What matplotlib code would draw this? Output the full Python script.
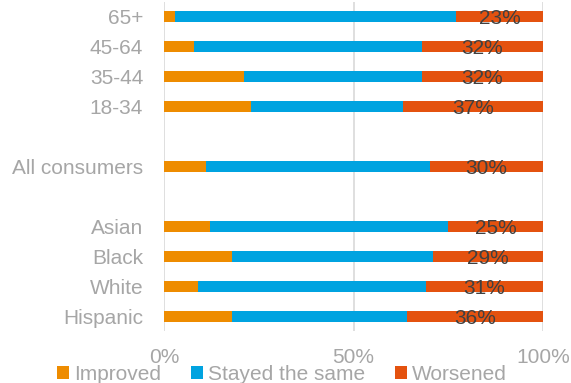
import matplotlib
matplotlib.use("Agg")
import matplotlib.pyplot as plt
import numpy as np

plt.rcParams['font.family'] = ['Liberation Sans', 'DejaVu Sans']

# data (percent)
groups = ["65+", "45-64", "35-44", "18-34", "All consumers",
          "Asian", "Black", "White", "Hispanic"]
improved = [3, 8, 21, 23, 11, 12, 18, 9, 18]
stayed = [74, 60, 47, 40, 59, 63, 53, 60, 46]
worsened = [23, 32, 32, 37, 30, 25, 29, 31, 36]
series_names = ["Improved", "Stayed the same", "Worsened"]
xticks = [0, 50, 100]
xtick_labels = ["0%", "50%", "100%"]

colors = ["#EE8C00", "#00A3E0", "#E4520F"]
grey = "#A6A6A6"

# slot positions, with empty slots between the blocks
ypos = np.array([0, 1, 2, 3, 5, 7, 8, 9, 10])

fig = plt.figure(figsize=(5.71, 3.83), dpi=100)
ax = fig.add_axes([0.2872, 0.1345, 0.6643, 0.8615])

h = 0.39
imp = np.array(improved)
sty = np.array(stayed)
wor = np.array(worsened)
ax.barh(ypos, imp, height=h, color=colors[0], label=series_names[0], zorder=3)
ax.barh(ypos, sty, left=imp, height=h, color=colors[1], label=series_names[1], zorder=3)
ax.barh(ypos, wor, left=imp + sty, height=h, color=colors[2], label=series_names[2], zorder=3)

for y, a, b, w in zip(ypos, imp, sty, wor):
    ax.text(a + b + w / 2, y + 0.06, f"{w}%", ha="center", va="center",
            fontsize=15, color="#404040", zorder=4)

ax.set_ylim(10.5, -0.5)
ax.set_xlim(0, 100)
ax.set_yticks(ypos)
ax.set_yticklabels(groups, fontsize=15, color=grey)
ax.set_xticks(xticks)
ax.set_xticklabels(xtick_labels, fontsize=15, color=grey)
ax.tick_params(axis="y", length=0, pad=15)
ax.tick_params(axis="x", length=0, pad=12)
ax.grid(axis="x", color="#D9D9D9", linewidth=1.2, zorder=0)
for s in ax.spines.values():
    s.set_visible(False)

fig.legend(loc="center", bbox_to_anchor=(0.494, 0.022), ncol=3, frameon=False,
           fontsize=15, labelcolor=grey, handlelength=0.55, handleheight=0.55,
           handletextpad=0.25, columnspacing=1.45, borderpad=0)

fig.savefig("out.png", dpi=100)
